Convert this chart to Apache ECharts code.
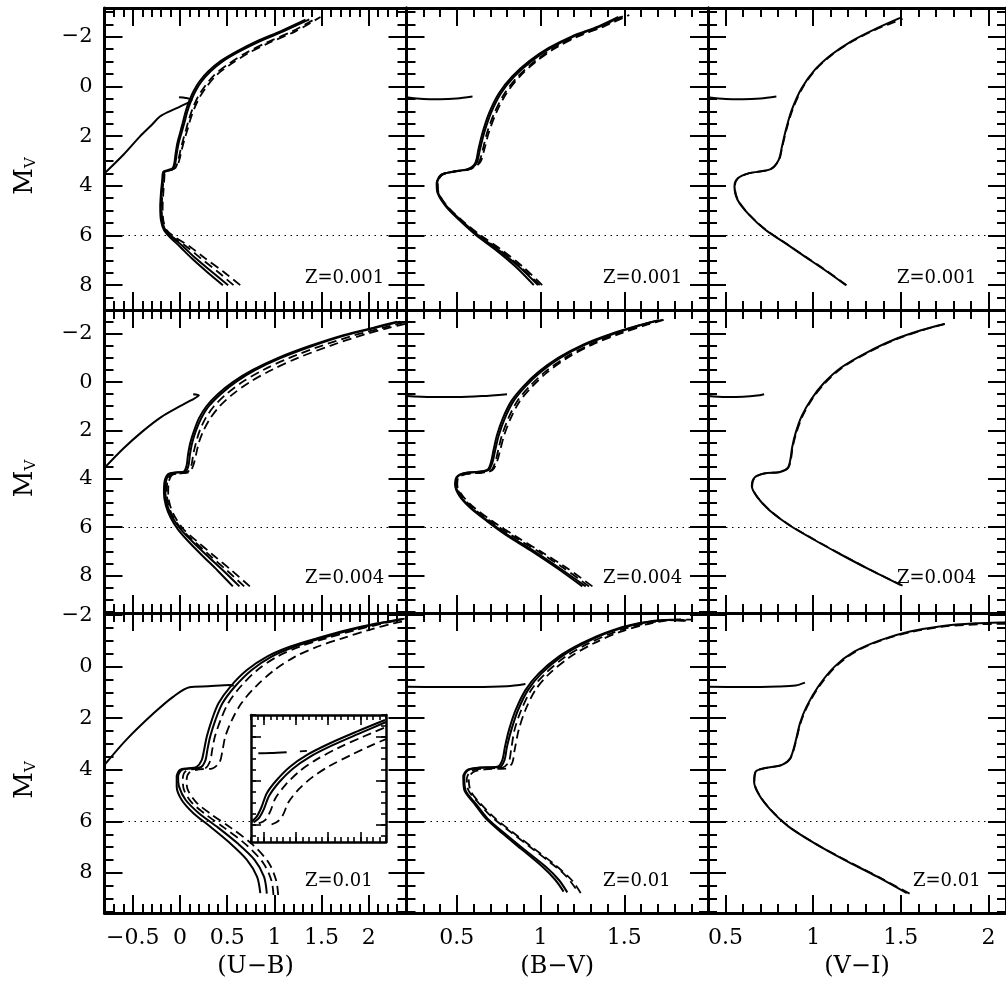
<!DOCTYPE html>
<html><head><meta charset="utf-8">
<script src="https://cdn.jsdelivr.net/npm/echarts/dist/echarts.min.js"></script>
<style>html,body{margin:0;padding:0;background:#fff}#c{width:1006px;height:990px}</style>
</head><body><div id="c"></div>
<script>
// ---------- axis ranges / ticks / labels ----------
const colNames = ['(U\u2212B)', '(B\u2212V)', '(V\u2212I)'];
const zLabels = ['Z=0.001', 'Z=0.004', 'Z=0.01'];
const xRanges = [[-0.8, 2.4], [0.2, 2.0], [0.4, 2.1]];
const yRanges = [[-3.16, 9.0], [-2.98, 9.55], [-2.08, 9.55]];
const xMajorTicks = [[-0.5, 0, 0.5, 1, 1.5, 2], [0.5, 1, 1.5, 2], [0.5, 1, 1.5, 2]];
const xTickLabels = [[-0.5, 0, 0.5, 1, 1.5, 2], [0.5, 1, 1.5], [0.5, 1, 1.5, 2]];
const yMajorTicks = [-2, 0, 2, 4, 6, 8];
const yTickLabels = [-2, 0, 2, 4, 6, 8];
const insetXRange = [0.3, 2.4];
const insetYRange = [-1.0, 4.8];
const insetXMajor = [0.5, 1, 1.5, 2];
const insetYMajor = [0, 2, 4];
const refMag = 6;

// ---------- Z=0.001 ----------
const ub001_s1 = [[0.454,8.00],[0.284,7.46],[0.124,6.92],[0.000,6.45],[-0.106,6.07],[-0.170,5.78],[-0.202,5.38],[-0.209,4.84],[-0.202,4.30],[-0.188,3.76],[-0.177,3.43],[-0.124,3.36],[-0.078,3.29],[-0.060,3.09],[-0.046,2.69],[-0.028,2.28],[0.000,1.88],[0.028,1.48],[0.060,1.01],[0.096,0.60],[0.142,0.20],[0.206,-0.20],[0.301,-0.61],[0.426,-1.01],[0.603,-1.41],[0.816,-1.82],[1.064,-2.22],[1.330,-2.69]];
const ub001_s2 = [[0.51,8.00],[0.33,7.44],[0.16,6.90],[0.03,6.43],[-0.09,6.05],[-0.16,5.76],[-0.195,5.36],[-0.203,4.84],[-0.196,4.30],[-0.182,3.76],[-0.170,3.45],[-0.115,3.38],[-0.068,3.30],[-0.050,3.09],[-0.034,2.69],[-0.014,2.28],[0.015,1.88],[0.045,1.48],[0.078,1.01],[0.115,0.60],[0.162,0.20],[0.228,-0.20],[0.325,-0.61],[0.452,-1.01],[0.630,-1.41],[0.845,-1.82],[1.095,-2.22],[1.37,-2.70]];
const ub001_d1 = [[0.567,8.00],[0.40,7.46],[0.22,6.92],[0.07,6.45],[-0.075,6.07],[-0.155,5.78],[-0.188,5.38],[-0.193,4.84],[-0.186,4.30],[-0.175,3.76],[-0.163,3.43],[-0.100,3.37],[-0.045,3.25],[-0.018,2.96],[0.006,2.55],[0.033,2.15],[0.063,1.75],[0.098,1.28],[0.142,0.81],[0.193,0.40],[0.262,0.00],[0.365,-0.47],[0.505,-0.88],[0.698,-1.35],[0.925,-1.78],[1.19,-2.22],[1.45,-2.76]];
const ub001_d2 = [[0.638,8.00],[0.461,7.46],[0.266,6.92],[0.106,6.45],[-0.053,6.07],[-0.142,5.78],[-0.177,5.38],[-0.184,4.84],[-0.177,4.30],[-0.167,3.76],[-0.156,3.43],[-0.089,3.36],[-0.035,3.23],[-0.007,2.96],[0.018,2.55],[0.046,2.15],[0.078,1.75],[0.114,1.28],[0.160,0.81],[0.213,0.40],[0.284,0.00],[0.390,-0.47],[0.532,-0.88],[0.727,-1.35],[0.957,-1.78],[1.223,-2.22],[1.489,-2.80]];
const ub001_hb = [[-0.80,3.50],[-0.60,2.75],[-0.426,2.02],[-0.30,1.55],[-0.213,1.21],[-0.10,0.98],[0.0,0.81],[0.124,0.54],[0.06,0.46],[-0.01,0.43]];

const bv001_s1 = [[0.960,8.00],[0.852,7.26],[0.733,6.58],[0.614,5.98],[0.515,5.38],[0.436,4.84],[0.386,4.30],[0.380,3.90],[0.406,3.56],[0.475,3.43],[0.564,3.33],[0.610,3.09],[0.629,2.55],[0.653,1.88],[0.693,1.07],[0.752,0.27],[0.831,-0.40],[0.931,-1.01],[1.049,-1.55],[1.188,-2.02],[1.346,-2.42],[1.465,-2.80]];
const bv001_s2 = [[0.985,8.00],[0.872,7.26],[0.748,6.58],[0.626,5.98],[0.524,5.38],[0.442,4.84],[0.390,4.30],[0.383,3.90],[0.408,3.56],[0.478,3.43],[0.570,3.33],[0.618,3.09],[0.638,2.55],[0.663,1.88],[0.704,1.07],[0.764,0.27],[0.843,-0.40],[0.944,-1.01],[1.062,-1.55],[1.200,-2.02],[1.358,-2.42],[1.48,-2.80]];
const bv001_d1 = [[0.995,8.00],[0.880,7.26],[0.755,6.58],[0.630,5.98],[0.522,5.38],[0.440,4.84],[0.390,4.30],[0.384,3.90],[0.410,3.56],[0.482,3.43],[0.580,3.32],[0.632,3.05],[0.655,2.55],[0.680,1.88],[0.724,1.07],[0.786,0.27],[0.865,-0.40],[0.964,-1.01],[1.080,-1.55],[1.215,-2.02],[1.37,-2.42],[1.50,-2.85]];
const bv001_d2 = [[1.01,8.00],[0.895,7.26],[0.768,6.58],[0.640,5.98],[0.530,5.38],[0.445,4.84],[0.393,4.30],[0.386,3.90],[0.412,3.56],[0.485,3.43],[0.585,3.32],[0.640,3.05],[0.664,2.55],[0.690,1.88],[0.735,1.07],[0.797,0.27],[0.876,-0.40],[0.975,-1.01],[1.09,-1.55],[1.225,-2.02],[1.38,-2.42],[1.53,-2.88]];
const bv001_hb = [[0.20,0.43],[0.30,0.50],[0.40,0.51],[0.50,0.48],[0.594,0.40]];

const vi001_s1 = [[1.187,8.00],[1.066,7.39],[0.953,6.85],[0.841,6.31],[0.729,5.78],[0.635,5.17],[0.569,4.57],[0.551,4.03],[0.569,3.70],[0.635,3.49],[0.757,3.33],[0.803,2.96],[0.822,2.42],[0.844,1.75],[0.878,0.94],[0.934,0.07],[1.009,-0.67],[1.103,-1.28],[1.215,-1.81],[1.347,-2.29],[1.496,-2.76]];
const vi001_d1 = [[1.19,8.00],[1.07,7.39],[0.955,6.85],[0.843,6.31],[0.731,5.78],[0.637,5.17],[0.571,4.57],[0.553,4.03],[0.571,3.70],[0.637,3.49],[0.757,3.33],[0.805,2.96],[0.824,2.42],[0.847,1.75],[0.882,0.94],[0.938,0.07],[1.013,-0.67],[1.108,-1.28],[1.222,-1.81],[1.356,-2.29],[1.51,-2.72]];
const vi001_hb = [[0.40,0.43],[0.50,0.50],[0.60,0.51],[0.70,0.48],[0.79,0.40]];

// ---------- Z=0.004 ----------
const ub004_s1 = [[0.56,8.45],[0.40,7.80],[0.23,7.15],[0.08,6.55],[-0.02,6.10],[-0.10,5.60],[-0.15,5.10],[-0.17,4.60],[-0.165,4.15],[-0.13,3.82],[-0.05,3.74],[0.04,3.70],[0.07,3.45],[0.085,3.00],[0.11,2.50],[0.15,2.00],[0.20,1.50],[0.28,1.00],[0.40,0.50],[0.56,0.00],[0.77,-0.50],[1.04,-1.00],[1.38,-1.50],[1.74,-1.95],[2.05,-2.25],[2.30,-2.50]];
const ub004_s2 = [[0.63,8.45],[0.46,7.80],[0.28,7.15],[0.12,6.55],[0.01,6.10],[-0.08,5.60],[-0.135,5.10],[-0.155,4.60],[-0.15,4.15],[-0.115,3.82],[-0.035,3.74],[0.06,3.70],[0.09,3.45],[0.105,3.00],[0.13,2.50],[0.17,2.00],[0.225,1.50],[0.305,1.00],[0.43,0.50],[0.59,0.00],[0.80,-0.50],[1.07,-1.00],[1.41,-1.50],[1.77,-1.95],[2.08,-2.25],[2.33,-2.50]];
const ub004_d1 = [[0.68,8.45],[0.50,7.80],[0.31,7.15],[0.14,6.55],[0.02,6.10],[-0.07,5.60],[-0.12,5.10],[-0.14,4.60],[-0.135,4.15],[-0.10,3.85],[-0.02,3.78],[0.08,3.72],[0.12,3.45],[0.14,3.00],[0.17,2.50],[0.21,2.00],[0.27,1.50],[0.36,1.00],[0.49,0.50],[0.66,0.00],[0.88,-0.50],[1.16,-1.00],[1.50,-1.50],[1.86,-1.95],[2.16,-2.25],[2.38,-2.48]];
const ub004_d2 = [[0.74,8.45],[0.55,7.80],[0.35,7.15],[0.17,6.55],[0.04,6.10],[-0.05,5.60],[-0.105,5.10],[-0.125,4.60],[-0.12,4.15],[-0.085,3.85],[0.0,3.78],[0.10,3.72],[0.14,3.45],[0.17,3.00],[0.20,2.50],[0.25,2.00],[0.32,1.50],[0.42,1.00],[0.56,0.50],[0.74,0.00],[0.97,-0.50],[1.25,-1.00],[1.59,-1.50],[1.94,-1.95],[2.22,-2.25],[2.40,-2.42]];
const ub004_hb = [[-0.80,3.55],[-0.60,2.75],[-0.40,2.05],[-0.20,1.45],[0.00,1.00],[0.12,0.75],[0.20,0.55],[0.14,0.50]];

const bv004_s1 = [[1.25,8.45],[1.10,7.70],[0.95,7.00],[0.80,6.35],[0.68,5.75],[0.58,5.20],[0.515,4.70],[0.49,4.25],[0.50,3.92],[0.55,3.76],[0.63,3.71],[0.685,3.62],[0.705,3.30],[0.72,2.80],[0.74,2.20],[0.775,1.50],[0.825,0.80],[0.895,0.20],[0.985,-0.40],[1.105,-1.00],[1.255,-1.55],[1.425,-2.00],[1.59,-2.35],[1.70,-2.55]];
const bv004_s2 = [[1.27,8.45],[1.115,7.70],[0.963,7.00],[0.81,6.35],[0.688,5.75],[0.586,5.20],[0.52,4.70],[0.494,4.25],[0.503,3.92],[0.553,3.76],[0.635,3.71],[0.692,3.62],[0.714,3.30],[0.73,2.80],[0.751,2.20],[0.787,1.50],[0.838,0.80],[0.908,0.20],[0.998,-0.40],[1.118,-1.00],[1.268,-1.55],[1.437,-2.00],[1.60,-2.36],[1.71,-2.56]];
const bv004_d1 = [[1.29,8.45],[1.14,7.70],[0.985,7.00],[0.83,6.35],[0.70,5.75],[0.595,5.20],[0.527,4.70],[0.498,4.25],[0.506,3.95],[0.556,3.80],[0.64,3.75],[0.705,3.65],[0.73,3.30],[0.748,2.80],[0.77,2.20],[0.808,1.50],[0.86,0.80],[0.932,0.20],[1.024,-0.40],[1.145,-1.00],[1.295,-1.55],[1.46,-2.00],[1.62,-2.36],[1.73,-2.58]];
const bv004_d2 = [[1.31,8.45],[1.16,7.70],[1.00,7.00],[0.845,6.35],[0.712,5.75],[0.605,5.20],[0.535,4.70],[0.503,4.25],[0.51,3.95],[0.56,3.80],[0.645,3.75],[0.712,3.65],[0.74,3.30],[0.76,2.80],[0.783,2.20],[0.822,1.50],[0.875,0.80],[0.948,0.20],[1.04,-0.40],[1.16,-1.00],[1.31,-1.55],[1.475,-2.00],[1.635,-2.37],[1.75,-2.60]];
const bv004_hb = [[0.20,0.58],[0.35,0.62],[0.50,0.62],[0.65,0.58],[0.80,0.50]];

const vi004_s1 = [[1.50,8.40],[1.32,7.75],[1.15,7.10],[1.00,6.50],[0.86,5.90],[0.75,5.30],[0.68,4.75],[0.65,4.30],[0.665,3.95],[0.72,3.78],[0.81,3.72],[0.855,3.55],[0.87,3.20],[0.88,2.70],[0.90,2.10],[0.935,1.40],[0.99,0.70],[1.06,0.05],[1.16,-0.60],[1.30,-1.20],[1.46,-1.75],[1.62,-2.15],[1.75,-2.40]];
const vi004_d1 = [[1.51,8.42],[1.325,7.76],[1.153,7.10],[1.003,6.50],[0.863,5.90],[0.752,5.30],[0.682,4.75],[0.652,4.30],[0.667,3.95],[0.722,3.78],[0.812,3.72],[0.858,3.55],[0.873,3.20],[0.883,2.70],[0.904,2.10],[0.94,1.40],[0.995,0.70],[1.066,0.05],[1.167,-0.60],[1.307,-1.20],[1.467,-1.75],[1.627,-2.15],[1.76,-2.42]];
const vi004_hb = [[0.40,0.58],[0.50,0.62],[0.60,0.61],[0.68,0.56],[0.72,0.50]];

// ---------- Z=0.01 ----------
const ub01_s1 = [[0.851,8.78],[0.816,8.14],[0.709,7.49],[0.532,6.85],[0.319,6.20],[0.142,5.68],[0.018,5.17],[-0.035,4.65],[-0.035,4.26],[0.000,4.00],[0.089,3.94],[0.177,3.88],[0.230,3.62],[0.255,3.23],[0.284,2.71],[0.337,2.07],[0.408,1.42],[0.532,0.78],[0.709,0.13],[0.922,-0.39],[1.170,-0.78],[1.454,-1.10],[1.773,-1.42],[2.092,-1.68],[2.34,-1.84]];
const ub01_s2 = [[0.92,8.80],[0.89,8.14],[0.79,7.49],[0.61,6.85],[0.39,6.20],[0.20,5.68],[0.06,5.17],[-0.01,4.65],[-0.02,4.26],[0.02,4.00],[0.11,3.95],[0.22,3.90],[0.27,3.62],[0.29,3.23],[0.32,2.71],[0.375,2.07],[0.45,1.42],[0.58,0.78],[0.76,0.13],[0.97,-0.39],[1.22,-0.78],[1.50,-1.10],[1.81,-1.42],[2.12,-1.68],[2.36,-1.85]];
const ub01_d1 = [[0.99,8.85],[0.97,8.30],[0.88,7.60],[0.70,6.90],[0.47,6.25],[0.27,5.72],[0.12,5.25],[0.04,4.75],[0.03,4.35],[0.06,4.05],[0.15,3.97],[0.27,3.93],[0.32,3.65],[0.34,3.25],[0.37,2.71],[0.43,2.07],[0.51,1.42],[0.64,0.78],[0.82,0.13],[1.03,-0.39],[1.27,-0.78],[1.55,-1.10],[1.86,-1.42],[2.16,-1.68],[2.38,-1.86]];
const ub01_d2 = [[1.04,8.85],[1.02,8.30],[0.94,7.60],[0.77,6.90],[0.54,6.25],[0.33,5.72],[0.17,5.25],[0.08,4.75],[0.07,4.40],[0.10,4.10],[0.20,3.98],[0.34,3.95],[0.42,3.70],[0.45,3.25],[0.48,2.71],[0.55,2.07],[0.65,1.42],[0.80,0.78],[1.00,0.13],[1.22,-0.39],[1.46,-0.78],[1.72,-1.10],[2.00,-1.42],[2.26,-1.68],[2.40,-1.78]];
const ub01_hb = [[-0.80,3.81],[-0.57,2.84],[-0.28,1.81],[-0.07,1.16],[0.10,0.80],[0.30,0.76],[0.53,0.71],[0.57,0.74]];

const bv01_s1 = [[1.138,8.72],[1.089,8.27],[1.010,7.75],[0.891,7.10],[0.772,6.46],[0.673,5.88],[0.604,5.30],[0.545,4.78],[0.539,4.26],[0.564,4.00],[0.634,3.91],[0.742,3.88],[0.772,3.62],[0.788,3.10],[0.812,2.45],[0.852,1.68],[0.911,0.90],[0.990,0.26],[1.109,-0.39],[1.247,-0.91],[1.406,-1.36],[1.584,-1.68],[1.762,-1.81],[1.861,-1.78]];
const bv01_s2 = [[1.16,8.75],[1.11,8.27],[1.03,7.75],[0.905,7.10],[0.785,6.46],[0.683,5.88],[0.612,5.30],[0.552,4.78],[0.545,4.26],[0.57,4.00],[0.64,3.92],[0.755,3.89],[0.785,3.62],[0.80,3.10],[0.826,2.45],[0.866,1.68],[0.926,0.90],[1.006,0.26],[1.125,-0.39],[1.263,-0.91],[1.42,-1.36],[1.60,-1.68],[1.78,-1.82],[1.87,-1.79]];
const bv01_d1 = [[1.21,8.60],[1.15,8.10],[1.06,7.60],[0.94,7.00],[0.82,6.40],[0.71,5.83],[0.63,5.28],[0.57,4.80],[0.56,4.35],[0.585,4.05],[0.66,3.95],[0.77,3.92],[0.81,3.70],[0.825,3.20],[0.845,2.45],[0.885,1.68],[0.945,0.90],[1.03,0.26],[1.15,-0.39],[1.29,-0.91],[1.45,-1.36],[1.63,-1.68],[1.80,-1.82],[1.88,-1.80]];
const bv01_d2 = [[1.24,8.78],[1.19,8.30],[1.09,7.70],[0.96,7.05],[0.84,6.45],[0.73,5.88],[0.645,5.33],[0.585,4.85],[0.572,4.40],[0.595,4.10],[0.67,3.98],[0.79,3.95],[0.83,3.75],[0.845,3.25],[0.87,2.45],[0.91,1.68],[0.97,0.90],[1.055,0.26],[1.18,-0.39],[1.32,-0.91],[1.48,-1.36],[1.66,-1.68],[1.83,-1.83],[1.90,-1.82]];
const bv01_hb = [[0.20,0.78],[0.40,0.79],[0.60,0.79],[0.80,0.76],[0.91,0.67]];

const vi01_s1 = [[1.534,8.78],[1.365,8.14],[1.178,7.49],[1.009,6.85],[0.860,6.20],[0.757,5.55],[0.691,4.97],[0.663,4.46],[0.672,4.07],[0.719,3.94],[0.822,3.81],[0.869,3.55],[0.897,2.97],[0.925,2.19],[0.962,1.55],[1.028,0.78],[1.122,0.00],[1.234,-0.58],[1.384,-1.03],[1.552,-1.36],[1.740,-1.58],[1.927,-1.68],[2.073,-1.71],[2.10,-1.72]];
const vi01_d1 = [[1.55,8.80],[1.375,8.16],[1.185,7.50],[1.012,6.86],[0.862,6.20],[0.759,5.55],[0.693,4.97],[0.665,4.46],[0.674,4.07],[0.721,3.94],[0.824,3.81],[0.871,3.55],[0.899,2.97],[0.928,2.19],[0.966,1.55],[1.033,0.78],[1.128,0.00],[1.242,-0.58],[1.394,-1.03],[1.564,-1.35],[1.752,-1.56],[1.94,-1.64],[2.10,-1.66]];
const vi01_hb = [[0.40,0.78],[0.60,0.79],[0.80,0.77],[0.90,0.73],[0.953,0.62]];

// ---------- inset (Z=0.01, U-B panel) ----------
const inset_hb = [[0.414,0.75],[0.60,0.74],[0.855,0.70]];
const inset_hb2 = [[1.06,0.66],[1.17,0.64]];
const inset_s1 = [[0.31,3.87],[0.389,3.64],[0.466,3.19],[0.544,2.58],[0.70,1.97],[0.907,1.36],[1.166,0.83],[1.529,0.29],[1.944,-0.24],[2.384,-0.77]];
const inset_s2 = [[0.34,3.90],[0.42,3.72],[0.50,3.30],[0.58,2.70],[0.74,2.06],[0.95,1.45],[1.21,0.92],[1.57,0.38],[1.98,-0.15],[2.40,-0.68]];
const inset_d1 = [[0.42,3.95],[0.52,3.80],[0.60,3.40],[0.68,2.80],[0.84,2.18],[1.05,1.58],[1.31,1.05],[1.66,0.50],[2.06,-0.03],[2.40,-0.45]];
const inset_d2 = [[0.62,4.00],[0.72,3.85],[0.80,3.55],[0.88,3.00],[1.04,2.40],[1.25,1.85],[1.52,1.33],[1.86,0.82],[2.20,0.35],[2.40,0.10]];

// ---------- layout ----------
const FONT = 'DejaVu Serif';
const colBox = [[104.5, 302], [406.5, 301.5], [708, 302]];
const rowBox = [[8, 302], [310, 303], [613, 300]];
const insetBox = {left: 251, top: 715, width: 135, height: 127};
const zTextPos = [[[305,278],[603,278],[897,278]],[[305,578],[603,578],[897,578]],[[305,881],[603,881],[913,881]]];

const panelCurves = [
  [ {s:[ub001_s1,ub001_s2], d:[ub001_d1,ub001_d2], hb:ub001_hb},
    {s:[bv001_s1,bv001_s2], d:[bv001_d1,bv001_d2], hb:bv001_hb},
    {s:[vi001_s1], d:[vi001_d1], hb:vi001_hb} ],
  [ {s:[ub004_s1,ub004_s2], d:[ub004_d1,ub004_d2], hb:ub004_hb},
    {s:[bv004_s1,bv004_s2], d:[bv004_d1,bv004_d2], hb:bv004_hb},
    {s:[vi004_s1], d:[vi004_d1], hb:vi004_hb} ],
  [ {s:[ub01_s1,ub01_s2], d:[ub01_d1,ub01_d2], hb:ub01_hb},
    {s:[bv01_s1,bv01_s2], d:[bv01_d1,bv01_d2], hb:bv01_hb},
    {s:[vi01_s1], d:[vi01_d1], hb:vi01_hb} ]
];

function steps(a, b, st) {
  const out = []; const n = Math.round((b - a) / st);
  for (let i = 0; i <= n; i++) out.push(+(a + i * st).toFixed(4));
  return out;
}
const fmt = v => (v < 0 ? '\u2212' : '') + Math.abs(v);

const grids = [], xAxes = [], yAxes = [], series = [], graphics = [];

function addAxes(g, xr, yr, xMaj, xMin, yMaj, yMin, o) {
  const z = o.z || 0;
  const line = {show: true, onZero: false, lineStyle: {color: '#000', width: o.lw}};
  const noLine = {show: false, onZero: false};
  const tick = (vals, len) => ({show: true, inside: true, length: len, customValues: vals,
    lineStyle: {color: '#000', width: o.tw}});
  const base = {gridIndex: g, type: 'value', splitLine: {show: false}, minorTick: {show: false},
    silent: true, z: z};
  const xi = xAxes.length;
  xAxes.push(Object.assign({}, base, {min: xr[0], max: xr[1], position: 'bottom', axisLine: line,
    axisTick: tick(xMaj, o.maj),
    axisLabel: o.xLabels ? {show: true, customValues: o.xLabels, formatter: fmt, fontFamily: FONT,
      fontSize: 22, color: '#000', margin: 14} : {show: false},
    name: o.xName || '', nameLocation: 'middle', nameGap: 42,
    nameTextStyle: {fontFamily: FONT, fontSize: 24, color: '#000'}}));
  xAxes.push(Object.assign({}, base, {min: xr[0], max: xr[1], position: 'bottom', axisLine: noLine,
    axisTick: tick(xMin, o.min), axisLabel: {show: false}}));
  xAxes.push(Object.assign({}, base, {min: xr[0], max: xr[1], position: 'top', axisLine: line,
    axisTick: tick(xMaj, o.maj), axisLabel: {show: false}}));
  xAxes.push(Object.assign({}, base, {min: xr[0], max: xr[1], position: 'top', axisLine: noLine,
    axisTick: tick(xMin, o.min), axisLabel: {show: false}}));
  const yi = yAxes.length;
  yAxes.push(Object.assign({}, base, {min: yr[0], max: yr[1], inverse: true, position: 'left',
    axisLine: line, axisTick: tick(yMaj, o.maj),
    axisLabel: o.yLabels ? {show: true, customValues: o.yLabels, formatter: fmt, fontFamily: FONT,
      fontSize: 21, color: '#000', margin: 12} : {show: false},
    name: o.yName ? '{m|M}{v|V}' : '', nameLocation: 'middle', nameGap: 66,
    nameTextStyle: {color: '#000', padding: [0, 34, 0, 0], rich: {
      m: {fontFamily: FONT, fontSize: 26, color: '#000', verticalAlign: 'bottom', lineHeight: 30},
      v: {fontFamily: FONT, fontSize: 15, color: '#000', verticalAlign: 'bottom', lineHeight: 14}}}}));
  yAxes.push(Object.assign({}, base, {min: yr[0], max: yr[1], inverse: true, position: 'left',
    axisLine: noLine, axisTick: tick(yMin, o.min), axisLabel: {show: false}}));
  yAxes.push(Object.assign({}, base, {min: yr[0], max: yr[1], inverse: true, position: 'right',
    axisLine: line, axisTick: tick(yMaj, o.maj), axisLabel: {show: false}}));
  yAxes.push(Object.assign({}, base, {min: yr[0], max: yr[1], inverse: true, position: 'right',
    axisLine: noLine, axisTick: tick(yMin, o.min), axisLabel: {show: false}}));
  return [xi, yi];
}

function lineSeries(xi, yi, data, dashed, z, extra) {
  return Object.assign({type: 'line', xAxisIndex: xi, yAxisIndex: yi, data: data,
    showSymbol: false, symbol: 'none', smooth: 0.3, silent: true, animation: false, z: z || 2,
    lineStyle: {color: '#000', width: dashed ? 1.8 : 2, type: dashed ? [9, 5] : 'solid'}}, extra || {});
}

for (let r = 0; r < 3; r++) {
  for (let c = 0; c < 3; c++) {
    const g = grids.length;
    grids.push({left: colBox[c][0], width: colBox[c][1], top: rowBox[r][0], height: rowBox[r][1],
      containLabel: false, show: false});
    const xMin = steps(xRanges[c][0], xRanges[c][1], 0.1);
    const yMin = steps(-3, 9.5, 0.5).filter(v => v >= yRanges[r][0] && v <= yRanges[r][1]);
    const [xi, yi] = addAxes(g, xRanges[c], yRanges[r], xMajorTicks[c], xMin, yMajorTicks, yMin, {
      lw: 3, tw: 2, maj: 18, min: 9,
      xLabels: r === 2 ? xTickLabels[c] : null, xName: r === 2 ? colNames[c] : '',
      yLabels: c === 0 ? yTickLabels : null, yName: c === 0});
    const p = panelCurves[r][c];
    series.push(lineSeries(xi, yi, p.hb, false, 2, {markLine: {silent: true, symbol: ['none', 'none'],
      animation: false, label: {show: false},
      lineStyle: {color: '#000', width: 1.2, type: [1.5, 4.5]}, data: [{yAxis: refMag}]}}));
    p.s.forEach(d => series.push(lineSeries(xi, yi, d, false)));
    p.d.forEach(d => series.push(lineSeries(xi, yi, d, true)));
    const tp = zTextPos[r][c];
    graphics.push({type: 'text', x: tp[0], y: tp[1], z: 30, silent: true,
      style: {text: zLabels[r], font: '18px "DejaVu Serif"', fill: '#000', verticalAlign: 'middle', align: 'left'}});
  }
}

// inset
{
  const g = grids.length;
  grids.push(Object.assign({show: true, backgroundColor: '#fff', borderWidth: 0, z: 10}, insetBox));
  const [xi, yi] = addAxes(g, insetXRange, insetYRange, insetXMajor, steps(0.3, 2.4, 0.1),
    insetYMajor, steps(-1, 4.5, 0.5), {lw: 2.5, tw: 1.6, maj: 10, min: 5, z: 12});
  series.push(lineSeries(xi, yi, inset_hb, false, 12));
  series.push(lineSeries(xi, yi, inset_hb2, true, 12));
  series.push(lineSeries(xi, yi, inset_s1, false, 12));
  series.push(lineSeries(xi, yi, inset_s2, false, 12));
  series.push(lineSeries(xi, yi, inset_d1, true, 12));
  series.push(lineSeries(xi, yi, inset_d2, true, 12));
}

const chart = echarts.init(document.getElementById('c'), null, {renderer: 'canvas'});
chart.setOption({
  backgroundColor: '#fff', animation: false,
  grid: grids, xAxis: xAxes, yAxis: yAxes, series: series, graphic: graphics
});
</script></body></html>
